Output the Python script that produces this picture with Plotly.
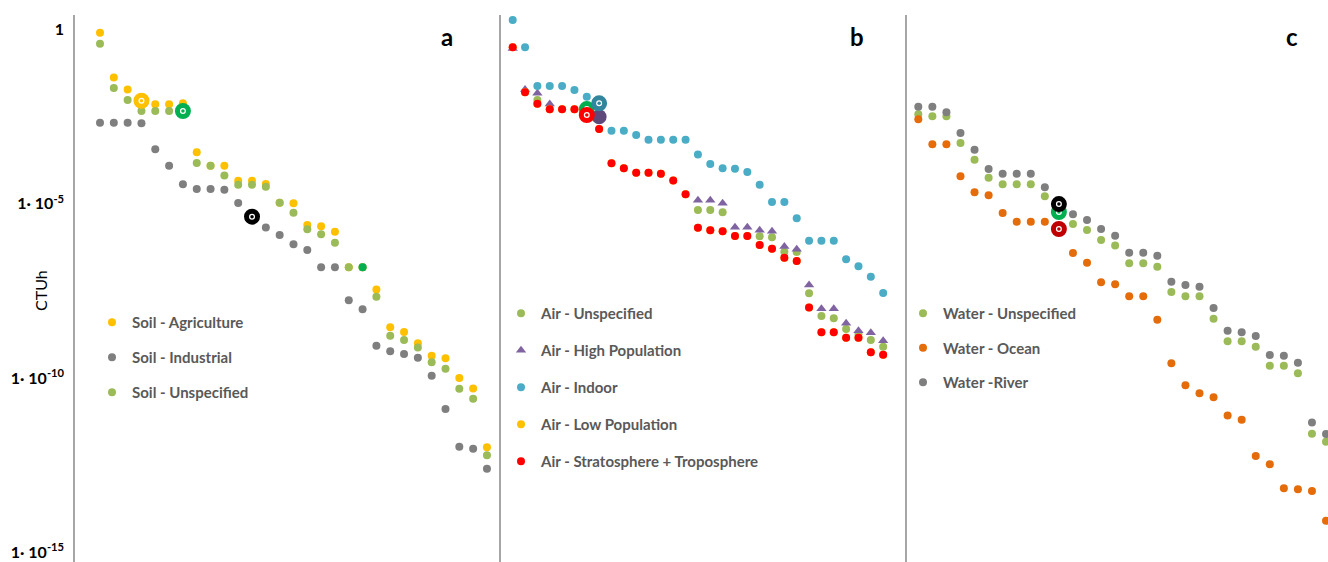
import plotly.graph_objects as go

# ---------------- data (CTUh values) ----------------
# Panel a - Soil (29 ranked substances)
soil_agriculture = [8.0e-1, 4.2e-2, 1.9e-2, 9.0e-3, 7.1e-3, 7.1e-3, 7.6e-3, 3.0e-4, 1.23e-4, 1.23e-4,
                    4.6e-5, 4.6e-5, 3.7e-5, 1.07e-5, 1.03e-5, 2.46e-6, 2.25e-6, 1.58e-6, 1.5e-7, 1.5e-7,
                    3.5e-8, 2.86e-9, 2.1e-9, 9.95e-10, 4.4e-10, 3.7e-10, 1.0e-10, 5.0e-11, 1.04e-12]
soil_industrial = [2.11e-3, 2.11e-3, 2.11e-3, 2.03e-3, 3.64e-4, 1.23e-4, 3.61e-5, 2.65e-5, 2.65e-5, 2.53e-5,
                   1.05e-5, 4.25e-6, 2.08e-6, 1.27e-6, 6.9e-7, 4.72e-7, 1.5e-7, 1.5e-7, 1.7e-8, 9.4e-9,
                   8.5e-10, 5.9e-10, 4.9e-10, 3.85e-10, 1.17e-10, 1.3e-11, 1.08e-12, 9.4e-13, 2.52e-13]
soil_unspecified = [3.9e-1, 2.09e-2, 9.45e-3, 4.57e-3, 4.57e-3, 4.57e-3, 4.57e-3, 1.47e-4, 1.23e-4, 6.5e-5,
                    3.52e-5, 3.52e-5, 3.08e-5, 1.07e-5, 5.5e-6, 1.85e-6, 1.33e-6, 7.6e-7, 1.5e-7, 1.5e-7,
                    2.16e-8, 1.64e-9, 1.24e-9, 7.6e-10, 2.84e-10, 1.86e-10, 4.97e-11, 2.56e-11, 6.1e-13]

# Panel b - Air (31 ranked substances)
air_unspecified = [None, None, 9.45e-3, None, None, None, 5.2e-3, None, None, None,
                   None, None, None, None, None, 6.6e-6, 6.6e-6, 5.7e-6, None, None,
                   1.17e-6, 1.09e-6, 4.2e-7, 4.1e-7, 2.7e-8, 6.0e-9, 5.2e-9, 2.56e-9, 1.84e-9, 1.24e-9,
                   7.9e-10]
air_high_population = [2.83e-1, 1.89e-2, 1.47e-2, 7.3e-3, None, None, None, 3.13e-3, None, None,
                       None, None, None, None, None, 1.26e-5, 1.26e-5, 1.03e-5, 2.11e-6, 2.11e-6,
                       1.73e-6, 1.62e-6, 5.9e-7, 4.94e-7, 4.68e-8, 9.8e-9, 9.8e-9, 3.73e-9, 2.29e-9, 2.0e-9,
                       1.18e-9]
air_indoor = [1.86, 3.07e-1, 2.38e-2, 2.38e-2, 2.38e-2, 1.83e-2, 1.17e-2, 7.6e-3, 1.24e-3, 1.24e-3,
              9.4e-4, 6.9e-4, 6.9e-4, 6.9e-4, 6.9e-4, 2.58e-4, 1.38e-4, 1.04e-4, 1.01e-4, 8.2e-5,
              3.52e-5, 1.12e-5, 1.12e-5, 3.83e-6, 8.7e-7, 8.7e-7, 8.7e-7, 2.57e-7, 1.62e-7, 8.0e-8,
              2.76e-8]
air_low_population = [3.07e-1, 1.57e-2, 7.4e-3, 5.1e-3, 5.1e-3, 5.1e-3, 3.51e-3, 1.39e-3, 1.45e-4, 1.04e-4,
                      7.7e-5, 7.7e-5, 7.2e-5, 4.64e-5, 1.87e-5, 2.06e-6, 1.73e-6, 1.63e-6, 1.19e-6, 1.19e-6,
                      6.6e-7, 5.1e-7, 2.84e-7, 2.28e-7, 1.06e-8, 2.06e-9, 2.06e-9, 1.44e-9, 1.44e-9, 5.5e-10,
                      4.66e-10]
air_strato_tropo = [3.07e-1, 1.57e-2, 7.4e-3, 5.1e-3, 5.1e-3, 5.1e-3, 3.51e-3, 1.39e-3, 1.45e-4, 1.04e-4,
                    7.7e-5, 7.7e-5, 7.2e-5, 4.64e-5, 1.87e-5, 2.06e-6, 1.73e-6, 1.63e-6, 1.19e-6, 1.19e-6,
                    6.6e-7, 5.1e-7, 2.84e-7, 2.28e-7, 1.06e-8, 2.06e-9, 2.06e-9, 1.44e-9, 1.44e-9, 5.5e-10,
                    4.66e-10]

# Panel c - Water (30 ranked substances)
water_unspecified = [3.67e-3, 3.22e-3, 3.22e-3, 5.5e-4, 1.83e-4, 5.6e-5, 3.61e-5, 3.61e-5, 3.61e-5, 1.64e-5,
                     5.8e-6, 2.63e-6, 1.77e-6, 9.1e-7, 6.3e-7, 1.96e-7, 1.96e-7, 1.57e-7, 2.95e-8, 2.22e-8,
                     2.22e-8, 5.0e-9, 1.14e-9, 1.14e-9, 7.9e-10, 2.27e-10, 2.27e-10, 1.37e-10, 2.54e-12, 1.5e-12]
water_ocean = [2.64e-3, 5.1e-4, 5.1e-4, 6.1e-5, 2.13e-5, 1.75e-5, 5.4e-6, 3.06e-6, 3.06e-6, 3.06e-6,
               1.89e-6, 3.87e-7, 2.04e-7, 5.6e-8, 4.93e-8, 2.22e-8, 2.22e-8, 4.73e-9, 2.66e-10, 6.2e-11,
               3.66e-11, 2.81e-11, 8.4e-12, 6.4e-12, 5.8e-13, 3.37e-13, 6.9e-14, 6.5e-14, 5.8e-14, 8.1e-15]
water_river = [6.1e-3, 6.1e-3, 4.2e-3, 1.07e-3, 3.55e-4, 9.9e-5, 7.3e-5, 7.3e-5, 7.3e-5, 2.96e-5,
               9.8e-6, 4.98e-6, 3.42e-6, 1.89e-6, 1.21e-6, 3.95e-7, 3.95e-7, 3.24e-7, 5.8e-8, 4.68e-8,
               4.18e-8, 1.02e-8, 2.29e-9, 2.06e-9, 1.61e-9, 4.6e-10, 4.39e-10, 2.77e-10, 5.3e-12, 2.49e-12]

y_tick_values = [1, 1e-5, 1e-10, 1e-15]
y_tick_labels = ["1", "1· 10<sup>-5</sup>", "1· 10<sup>-10</sup>", "1· 10<sup>-15</sup>"]
panel_letters = ["a", "b", "c"]

# ---------------- styling ----------------
GREEN = "#9BBB59"
GRAY = "#7F7F7F"
YELLOW = "#FFC000"
PURPLE = "#8064A2"
CYAN = "#4BACC6"
RED = "#FF0000"
ORANGE = "#E46C0A"

series = {
    "Soil - Agriculture": soil_agriculture,
    "Soil - Industrial": soil_industrial,
    "Soil - Unspecified": soil_unspecified,
    "Air - Unspecified": air_unspecified,
    "Air - High Population": air_high_population,
    "Air - Indoor": air_indoor,
    "Air - Low Population": air_low_population,
    "Air - Stratosphere + Troposphere": air_strato_tropo,
    "Water - Unspecified": water_unspecified,
    "Water - Ocean": water_ocean,
    "Water -River": water_river,
}

panels = [
    dict(x="x", y="y", legend="legend", items=[
        ("Soil - Agriculture", YELLOW, "circle"),
        ("Soil - Industrial", GRAY, "circle"),
        ("Soil - Unspecified", GREEN, "circle")]),
    dict(x="x2", y="y2", legend="legend2", items=[
        ("Air - Unspecified", GREEN, "circle"),
        ("Air - High Population", PURPLE, "triangle-up"),
        ("Air - Indoor", CYAN, "circle"),
        ("Air - Low Population", YELLOW, "circle"),
        ("Air - Stratosphere + Troposphere", RED, "circle")]),
    dict(x="x3", y="y3", legend="legend3", items=[
        ("Water - Unspecified", GREEN, "circle"),
        ("Water - Ocean", ORANGE, "circle"),
        ("Water -River", GRAY, "circle")]),
]

# highlighted substances: (panel number, series, rank index, colour, style)
highlights = [
    (0, "Soil - Agriculture", 3, "#FFC000", "ring"),
    (0, "Soil - Unspecified", 6, "#00B050", "ring"),
    (0, "Soil - Industrial", 11, "#000000", "ring"),
    (0, "Soil - Unspecified", 19, "#00B050", "dot"),
    (1, "Air - High Population", 7, "#5F497A", "big"),
    (1, "Air - Unspecified", 6, "#00B050", "ring"),
    (1, "Air - Stratosphere + Troposphere", 6, "#FF0000", "ring"),
    (1, "Air - Indoor", 7, "#31859C", "ring"),
    (2, "Water - Unspecified", 10, "#00B050", "ring"),
    (2, "Water - Ocean", 10, "#C00000", "ring"),
    (2, "Water -River", 10, "#000000", "ring"),
]

fig = go.Figure()

for p in panels:
    for name, color, symbol in p["items"]:
        vals = series[name]
        fig.add_trace(go.Scatter(
            x=list(range(len(vals))), y=vals, mode="markers", name=name,
            marker=dict(color=color, size=9 if symbol != "circle" else 8, symbol=symbol,
                        line=dict(width=0)),
            xaxis=p["x"], yaxis=p["y"], legend=p["legend"], legendgroup=name,
            hoverinfo="skip"))

for pi, name, idx, color, style in highlights:
    p = panels[pi]
    xv, yv = [idx], [series[name][idx]]
    common = dict(xaxis=p["x"], yaxis=p["y"], showlegend=False, mode="markers", hoverinfo="skip")
    if style == "ring":
        fig.add_trace(go.Scatter(x=xv, y=yv, marker=dict(size=11, color="white",
                                 line=dict(color=color, width=5)), **common))
        fig.add_trace(go.Scatter(x=xv, y=yv, marker=dict(size=3.5, color=color,
                                 line=dict(width=0)), **common))
    elif style == "big":
        fig.add_trace(go.Scatter(x=xv, y=yv, marker=dict(size=15, color=color,
                                 line=dict(width=0)), **common))
    else:
        fig.add_trace(go.Scatter(x=xv, y=yv, marker=dict(size=8, color=color,
                                 line=dict(width=0)), **common))

# ---------------- layout ----------------
L, R, T, B = 75, 0, 15, 0
PW, PH = 1328 - L - R, 562 - T - B


def px_x(px):
    return (px - L) / PW


def px_y(py):
    return 1 - (py - T) / PH


d_a, d_b = px_x(501), px_x(907)
y_range = [-15.274, 0.413]
axis_line = dict(showline=True, linecolor="#A6A6A6", linewidth=1.5, showgrid=False,
                 zeroline=False, ticks="")
xcommon = dict(showline=False, showgrid=False, zeroline=False, showticklabels=False, ticks="")

fig.update_layout(
    width=1328, height=562,
    margin=dict(l=L, r=R, t=T, b=B),
    paper_bgcolor="white", plot_bgcolor="white",
    xaxis=dict(domain=[0, d_a], range=[-1.809, 29.016], **xcommon),
    xaxis2=dict(domain=[d_a, d_b], range=[-0.947, 31.93], **xcommon),
    xaxis3=dict(domain=[d_b, 1], range=[-0.804, 29.14], **xcommon),
    yaxis=dict(type="log", range=y_range, anchor="x", tickvals=y_tick_values,
               ticktext=y_tick_labels, ticklabelstandoff=6,
               tickfont=dict(family="Lato", size=16, color="black", weight="bold"), **axis_line),
    yaxis2=dict(type="log", range=y_range, anchor="x2", showticklabels=False, **axis_line),
    yaxis3=dict(type="log", range=y_range, anchor="x3", showticklabels=False, **axis_line),
    showlegend=True,
)

legend_font = dict(family="Lato", size=15, color="#595959", weight="bold")
fig.update_layout(
    legend=dict(x=px_x(92), y=px_y(306), xanchor="left", yanchor="top", font=legend_font,
                bgcolor="rgba(0,0,0,0)", tracegroupgap=12.5, itemclick=False),
    legend2=dict(x=px_x(501), y=px_y(297), xanchor="left", yanchor="top", font=legend_font,
                 bgcolor="rgba(0,0,0,0)", tracegroupgap=14.5, itemclick=False),
    legend3=dict(x=px_x(903), y=px_y(297), xanchor="left", yanchor="top", font=legend_font,
                 bgcolor="rgba(0,0,0,0)", tracegroupgap=12, itemclick=False),
)

annotations = [
    dict(text="CTUh", x=px_x(40), y=px_y(291), xref="paper", yref="paper", showarrow=False,
         xanchor="center", yanchor="middle", textangle=-90,
         font=dict(family="Lato", size=16, color="black")),
]
for letter, cx in zip(panel_letters, [447, 857, 1292]):
    annotations.append(dict(text=letter, x=px_x(cx), y=px_y(37), xref="paper", yref="paper",
                            showarrow=False, xanchor="center", yanchor="middle",
                            font=dict(family="Lato", size=24, color="black", weight="bold")))
fig.update_layout(annotations=annotations)

fig.write_html("out.html", config={"displayModeBar": False},
               post_script="document.body.style.margin='0';")
